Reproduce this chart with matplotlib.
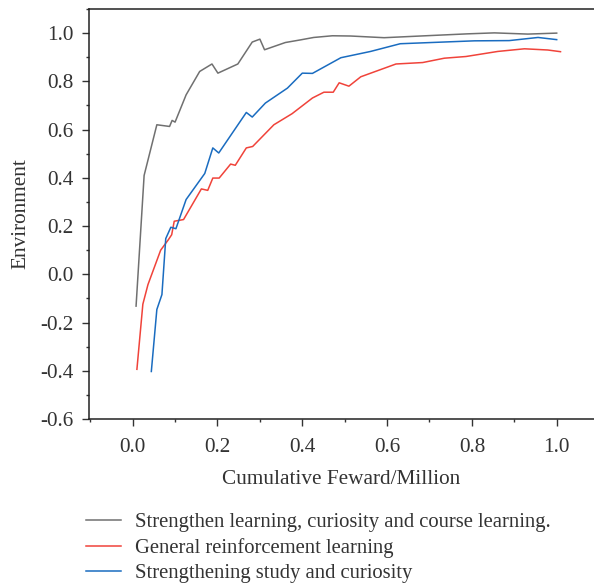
"""
Reward curves: curiosity / course learning vs plain reinforcement learning
"""
import matplotlib
matplotlib.use("Agg")
import matplotlib.pyplot as plt
from matplotlib.ticker import MultipleLocator

# gray: strengthen learning + curiosity + course learning
x_course = [0.008, 0.027, 0.057, 0.087, 0.093, 0.100, 0.126, 0.158, 0.187,
            0.201, 0.248, 0.282, 0.300, 0.311, 0.360, 0.396, 0.427, 0.471,
            0.514, 0.593, 0.703, 0.790, 0.853, 0.932, 1.000]
y_course = [-0.132, 0.410, 0.620, 0.613, 0.638, 0.631, 0.744, 0.841, 0.872,
            0.834, 0.872, 0.963, 0.975, 0.931, 0.961, 0.972, 0.982, 0.989,
            0.988, 0.981, 0.990, 0.997, 1.001, 0.996, 1.000]

# red: general reinforcement learning
x_general = [0.010, 0.024, 0.036, 0.066, 0.084, 0.092, 0.098, 0.120, 0.162,
             0.177, 0.189, 0.204, 0.231, 0.242, 0.268, 0.283, 0.333, 0.376,
             0.424, 0.451, 0.473, 0.487, 0.510, 0.538, 0.621, 0.684, 0.735,
             0.786, 0.861, 0.924, 0.979, 1.009]
y_general = [-0.394, -0.124, -0.043, 0.100, 0.143, 0.164, 0.220, 0.227, 0.354,
             0.348, 0.399, 0.399, 0.457, 0.452, 0.524, 0.530, 0.620, 0.666,
             0.731, 0.755, 0.755, 0.794, 0.780, 0.819, 0.872, 0.878, 0.896,
             0.903, 0.924, 0.935, 0.930, 0.923]

# blue: strengthening study + curiosity
x_study = [0.044, 0.057, 0.069, 0.078, 0.090, 0.102, 0.126, 0.170, 0.189,
           0.203, 0.268, 0.282, 0.313, 0.365, 0.400, 0.424, 0.491, 0.561,
           0.631, 0.806, 0.888, 0.956, 1.000]
y_study = [-0.403, -0.146, -0.084, 0.148, 0.195, 0.189, 0.310, 0.418, 0.524,
           0.503, 0.671, 0.652, 0.710, 0.772, 0.834, 0.833, 0.898, 0.924,
           0.956, 0.968, 0.969, 0.982, 0.973]

labels = ["Strengthen learning, curiosity and course learning.",
          "General reinforcement learning",
          "Strengthening study and curiosity"]

text_color = "#333333"
plt.rcParams['font.family'] = ['Liberation Serif', 'DejaVu Serif']
plt.rcParams['font.size'] = 15.3
plt.rcParams['text.color'] = text_color
plt.rcParams['axes.labelcolor'] = text_color
plt.rcParams['xtick.color'] = text_color
plt.rcParams['ytick.color'] = text_color

fig = plt.figure(figsize=(5.94, 5.85), dpi=100)
ax = fig.add_axes([89 / 594, 166 / 585, 1 - 89 / 594, 410 / 585])

ax.plot(x_course, y_course, color="#707070", lw=1.1, label=labels[0])
ax.plot(x_general, y_general, color="#f0433a", lw=1.1, label=labels[1])
ax.plot(x_study, y_study, color="#1a6cc0", lw=1.1, label=labels[2])

ax.set_xlim(-0.103, 1.088)
ax.set_ylim(-0.6, 1.1)
ax.xaxis.set_minor_locator(MultipleLocator(0.1))
ax.yaxis.set_minor_locator(MultipleLocator(0.1))
ax.set_xticks([0.0, 0.2, 0.4, 0.6, 0.8, 1.0])
ax.set_xticklabels(["0.0", "0.2", "0.4", "0.6", "0.8", "1.0"])
ax.set_yticks([-0.6, -0.4, -0.2, 0.0, 0.2, 0.4, 0.6, 0.8, 1.0])
ax.set_yticklabels(["-0.6", "-0.4", "-0.2", "0.0", "0.2", "0.4", "0.6",
                    "0.8", "1.0"])
ax.tick_params(axis="x", which="major", direction="out", length=5, width=1.0,
               pad=9)
ax.tick_params(axis="y", which="major", direction="out", length=5, width=1.0,
               pad=6)
ax.tick_params(which="minor", direction="out", length=2.5, width=1.0)
for side in ["left", "bottom", "top"]:
    ax.spines[side].set_linewidth(1.1)
    ax.spines[side].set_color("#222222")
ax.spines["right"].set_visible(False)

ax.set_xlabel("Cumulative Feward/Million", labelpad=9)
ax.set_ylabel("Environment", labelpad=7)

fig.legend(loc="upper left", bbox_to_anchor=(86 / 594, 1 - 513 / 585),
           frameon=False, borderpad=0, borderaxespad=0, fontsize=14.9,
           handlelength=1.7, handletextpad=0.65, labelspacing=0.28)

fig.savefig("out.png", dpi=100)
